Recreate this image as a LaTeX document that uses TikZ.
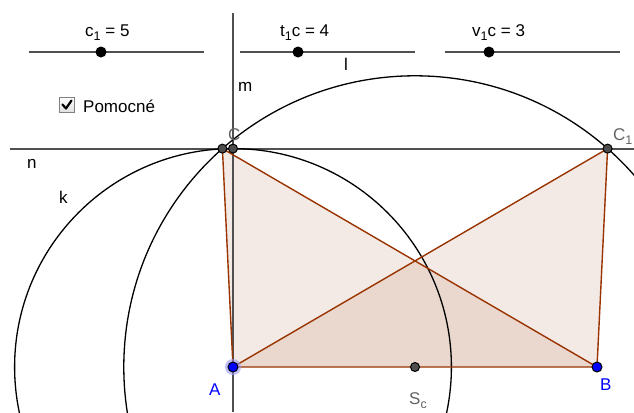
\documentclass[tikz,border=0pt]{standalone}
\usepackage{fontspec}
\setmainfont{Liberation Sans}
\definecolor{polyc}{RGB}{153,51,0}
\definecolor{lingray}{RGB}{80,80,80}
\definecolor{ptgray}{RGB}{77,77,77}
\definecolor{labgray}{RGB}{100,100,100}
\definecolor{halo}{RGB}{150,150,255}
\newcommand{\mysub}[1]{\raisebox{-4.5bp}{\fontsize{12.5bp}{12.5bp}\selectfont #1}}
\begin{document}
\begin{tikzpicture}[x=1bp,y=-1bp,
  txt/.style={font=\fontsize{17bp}{20bp}\selectfont, inner sep=0pt, anchor=base west},
  tri/.style={fill=polyc, fill opacity=0.1},
  edge/.style={draw=polyc, line width=1.4bp, line join=round},
  gline/.style={draw=lingray, line width=1.8bp},
  circ/.style={draw=black, line width=1.3bp},
  pt/.style={circle, draw=black, fill=ptgray, line width=1bp, inner sep=0pt, minimum size=9bp},
  bpt/.style={circle, draw=black, fill=blue, line width=1bp, inner sep=0pt, minimum size=10bp},
  spt/.style={circle, fill=black, inner sep=0pt, minimum size=11bp},
  sline/.style={draw=lingray, line width=1.5bp}]
\useasboundingbox (0,0) rectangle (634,412);
\clip (0,0) rectangle (634,412);
\fill[white] (0,0) rectangle (634,412);
% key points
\coordinate (A) at (233,367);
\coordinate (B) at (597,367);
\coordinate (Sc) at (415,367);
\coordinate (C) at (222.4,148.6);
\coordinate (C1) at (607.6,148.6);
\coordinate (P) at (233,148.6);
\coordinate (mT) at (233,13);
\coordinate (mB) at (233,412);
\coordinate (nL) at (10,148.6);
\coordinate (nR) at (634,148.6);
% triangles
\fill[tri] (A) -- (B) -- (C) -- cycle;
\fill[tri] (A) -- (B) -- (C1) -- cycle;
% lines m, n
\draw[gline] (mT) -- (mB);
\draw[gline] (nL) -- (nR);
% circles
\draw[circ] (A) circle[radius=218.4bp];
\draw[circ] (Sc) circle[radius=291.2bp];
% triangle edges
\draw[edge] (A) -- (B) -- (C) -- cycle;
\draw[edge] (A) -- (C1) -- (B);
% sliders
\coordinate (s1a) at (29,52); \coordinate (s1b) at (204,52);
\coordinate (s2a) at (240,52); \coordinate (s2b) at (415,52);
\coordinate (s3a) at (445,52); \coordinate (s3b) at (620,52);
\draw[sline] (s1a) -- (s1b);
\draw[sline] (s2a) -- (s2b);
\draw[sline] (s3a) -- (s3b);
\node[spt] (k1) at (101,52) {};
\node[spt] (k2) at (298,52) {};
\node[spt] (k3) at (489,52) {};
\node[txt] (l1) at (85,36) {c\mysub{1} = 5};
\node[txt] (l2) at (280,36) {t\mysub{1}c = 4};
\node[txt] (l3) at (472,36) {v\mysub{1}c = 3};
% checkbox
\draw[draw=gray, line width=1bp, top color=white, bottom color=gray!25] (59.5,97.5) rectangle (74.5,112.5);
\draw[black, line width=2.2bp, line cap=round, line join=round] (62.5,104.5) -- (66,108.5) -- (71.5,100.5);
\node[txt] (pom) at (83,112) {Pomocné};
% object labels
\node[txt] (lm) at (238,91) {m};
\node[txt] (ll) at (344,70) {l};
\node[txt] (ln) at (27,168) {n};
\node[txt] (lk) at (59,203) {k};
\node[txt, text=labgray] (lC) at (228,140) {C};
\node[txt, text=labgray] (lC1) at (613,140) {C\mysub{1}};
\node[txt, text=blue] (lA) at (209,395) {A};
\node[txt, text=blue] (lB) at (600,390) {B};
\node[txt, text=labgray] (lS) at (409,404) {S\mysub{c}};
% points
\node[pt] (nC) at (C) {};
\node[pt] (nP) at (P) {};
\node[pt] (nC1) at (C1) {};
\node[pt] (nS) at (Sc) {};
\fill[halo, opacity=0.6] (A) circle[radius=8bp];
\node[bpt] (nA) at (A) {};
\node[bpt] (nB) at (B) {};
\end{tikzpicture}
\end{document}
